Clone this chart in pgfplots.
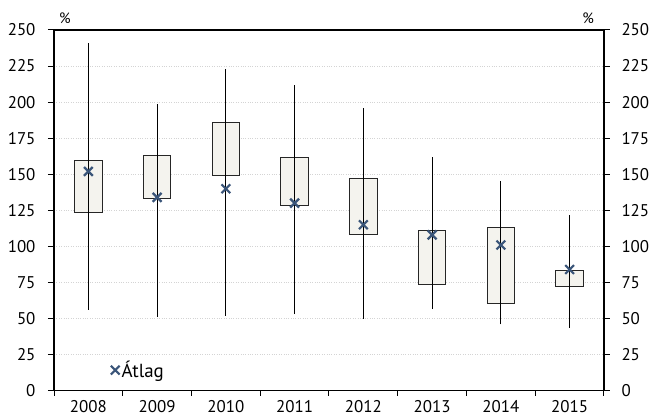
\documentclass[border=0pt]{standalone}
\usepackage{pgfplots}
\pgfplotsset{compat=1.18}
\usepackage{fontspec}
\setmainfont{PT Sans}
\definecolor{boxfill}{HTML}{F4F3EE}
\definecolor{meanc}{HTML}{3A5579}
\definecolor{gridc}{HTML}{D4D4D4}
\pgfplotsset{
  common/.style={
    at={(0,0)}, anchor=south west,
    scale only axis, width=550bp, height=360.7bp,
    xmin=-0.5, xmax=7.5, ymin=0, ymax=250,
    ytick={0,25,...,250},
    tick align=outside,
    major tick length=6bp, minor tick length=5bp,
    every tick/.style={black, line width=1bp},
    axis line style={black, line width=1.2bp},
    tick label style={font=\fontsize{17}{20}\selectfont},
    /pgf/number format/assume math mode=true,
  },
  bx/.style={forget plot, draw=black!85, line width=0.9bp, fill=boxfill},
  wh/.style={forget plot, black, line width=0.9bp},
}
\begin{document}
\begin{tikzpicture}
\useasboundingbox (-54bp,-29.3bp) rectangle (600bp,390.7bp);
\begin{axis}[common, clip=false,
  xtick={0,...,7},
  xticklabels={2008,2009,2010,2011,2012,2013,2014,2015},
  major x tick style={draw=none},
  minor xtick={-0.5,0.5,...,7.5},
  xtick pos=bottom, ytick pos=left,
  xticklabel style={yshift=-2.5bp, inner sep=1bp},
  yticklabel style={xshift=-9bp},
  ymajorgrids, grid style={gridc, dotted, line width=0.8bp},
  legend style={at={(0.103,0.057)}, anchor=west, draw=none, fill=none,
    inner sep=0pt, font=\fontsize{19}{22}\selectfont,
    /tikz/every even column/.style={column sep=1bp}},
  legend image code/.code={\draw plot coordinates {(0.12cm,0cm)};},
]
% boxes (lower quartile .. upper quartile)
\addplot[bx] coordinates {(-0.2,123.6) (0.2,123.6) (0.2,159.7) (-0.2,159.7)} -- cycle;
\addplot[bx] coordinates {(0.8,133) (1.2,133) (1.2,163) (0.8,163)} -- cycle;
\addplot[bx] coordinates {(1.8,149) (2.2,149) (2.2,185.6) (1.8,185.6)} -- cycle;
\addplot[bx] coordinates {(2.8,128.7) (3.2,128.7) (3.2,161.7) (2.8,161.7)} -- cycle;
\addplot[bx] coordinates {(3.8,108) (4.2,108) (4.2,147) (3.8,147)} -- cycle;
\addplot[bx] coordinates {(4.8,73.7) (5.2,73.7) (5.2,111.4) (4.8,111.4)} -- cycle;
\addplot[bx] coordinates {(5.8,60.3) (6.2,60.3) (6.2,113) (5.8,113)} -- cycle;
\addplot[bx] coordinates {(6.8,72) (7.2,72) (7.2,83.4) (6.8,83.4)} -- cycle;
% whiskers (min .. max)
\addplot[wh] coordinates {(0,56) (0,241)};
\addplot[wh] coordinates {(1,51) (1,199)};
\addplot[wh] coordinates {(2,52) (2,223)};
\addplot[wh] coordinates {(3,53) (3,212)};
\addplot[wh] coordinates {(4,50) (4,196)};
\addplot[wh] coordinates {(5,56.6) (5,161.7)};
\addplot[wh] coordinates {(6,46) (6,145.3)};
\addplot[wh] coordinates {(7,43.7) (7,121.8)};
% means
\addplot[only marks, mark=x, mark size=6.2bp, meanc, line width=2.2bp] coordinates {(0,152) (1,134) (2,140) (3,130) (4,115) (5,108) (6,101) (7,84)};
\addlegendentry{Átlag}
\node[anchor=base, font=\fontsize{15}{17}\selectfont, yshift=6bp] at (rel axis cs:0.02,1) {\%};
\node[anchor=base, font=\fontsize{15}{17}\selectfont, yshift=6bp] at (rel axis cs:0.971,1) {\%};
\end{axis}
\begin{axis}[common, axis y line*=right, axis x line=none,
  yticklabel style={xshift=8bp}]
\addplot[draw=none] coordinates {(0,0)};
\end{axis}
\end{tikzpicture}
\end{document}
